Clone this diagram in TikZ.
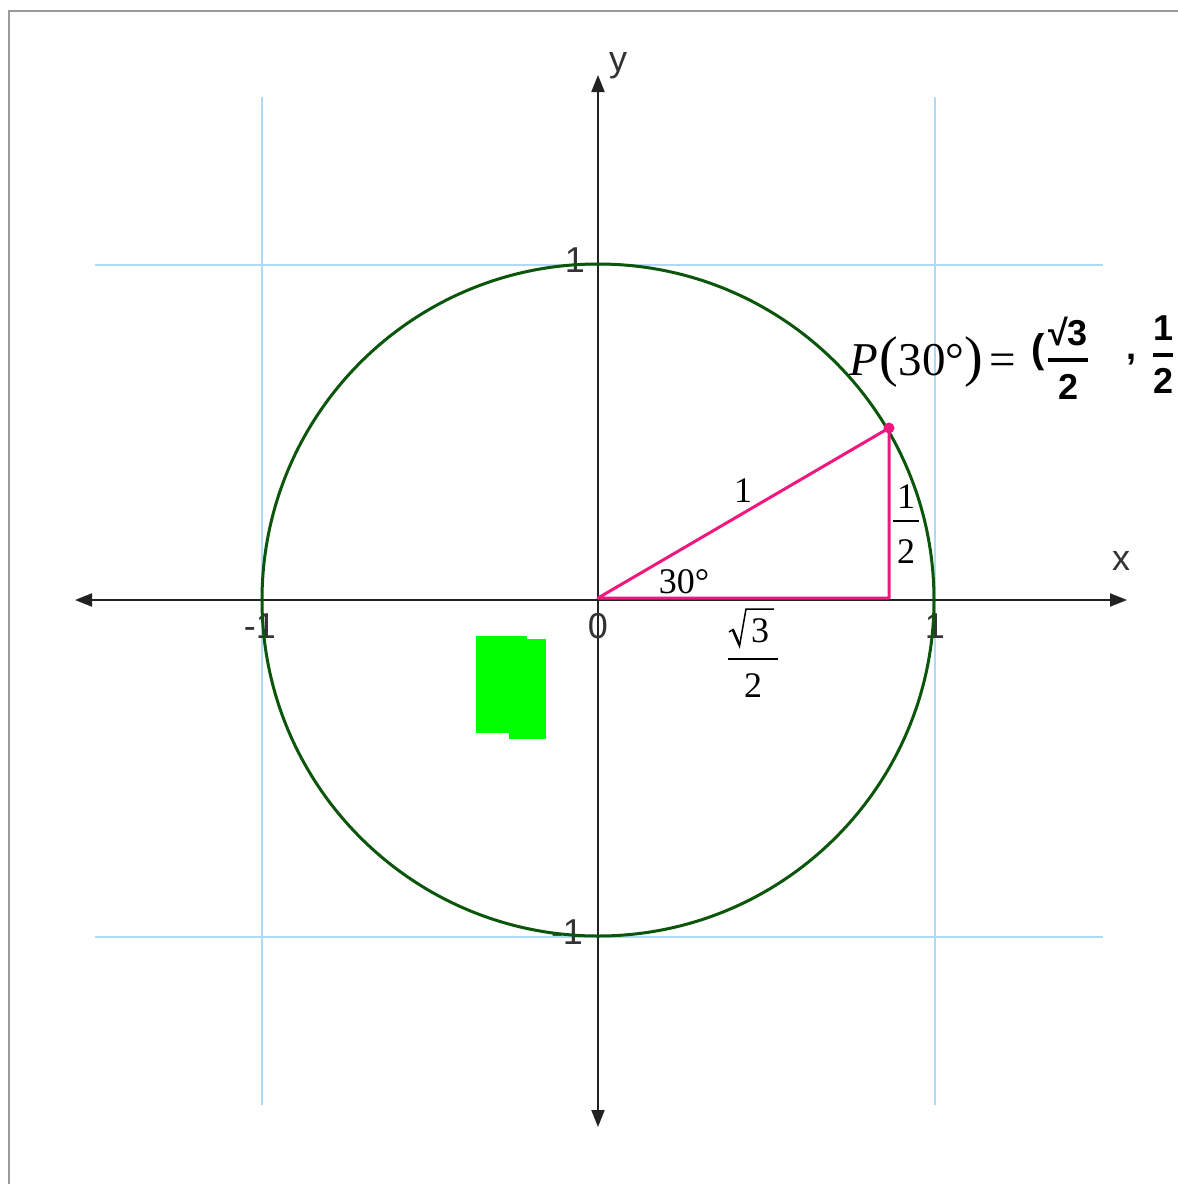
\documentclass[tikz,border=0pt]{standalone}
\usepackage{amsmath}
\usepackage{fontspec}
\setmainfont{Liberation Serif}
\setsansfont{Liberation Sans}
\usetikzlibrary{arrows.meta}
\definecolor{gridblue}{HTML}{B0DAF4}
\definecolor{axisgray}{HTML}{222222}
\definecolor{labelgray}{HTML}{333333}
\definecolor{circgreen}{HTML}{0B560B}
\definecolor{pinkline}{HTML}{F2177F}
\definecolor{bordergray}{HTML}{9A9A9A}
\definecolor{brightgreen}{HTML}{00FF00}
\tikzset{
  gridline/.style={draw=gridblue, line width=1.4pt},
  axisline/.style={draw=axisgray, line width=2pt, {Triangle[length=17pt,width=13pt]}-{Triangle[length=17pt,width=13pt]}},
  axislabel/.style={inner sep=0pt, text=labelgray, font=\sffamily\fontsize{36}{40}\selectfont},
  mathlabel/.style={inner sep=0pt, text=black, font=\rmfamily\fontsize{36}{40}\selectfont},
  fracbar/.style={draw=black, line width=1.6pt},
  radical/.style={draw=black, line width=1.5pt, line join=miter},
  handlabel/.style={inner sep=0pt, text=black, font=\sffamily\bfseries\fontsize{36}{40}\selectfont},
  pinkside/.style={draw=pinkline, line width=3pt, line cap=round, line join=round},
  greenblock/.style={fill=brightgreen, draw=none}
}
\begin{document}
\begin{tikzpicture}[x=1pt,y=-1pt]
\useasboundingbox (0,0) rectangle (1178,1184);
\clip (0,0) rectangle (1178,1184);
\fill[white] (0,0) rectangle (1178,1184);
% frame
\draw[bordergray, line width=2pt] (9,1200) -- (9,11) -- (1200,11);
% grid
\draw[gridline] (262,97) -- (262,1105);
\draw[gridline] (935,97) -- (935,1105);
\draw[gridline] (95,265) -- (1103,265);
\draw[gridline] (95,937) -- (1103,937);
% green blocks
\fill[greenblock] (476,636) rectangle (527,733);
\fill[greenblock] (509,639) rectangle (546,739);
% axes
\coordinate (xl) at (75,600);
\coordinate (xr) at (1127,600);
\coordinate (yt) at (598,75);
\coordinate (yb) at (598,1127);
\draw[axisline] (xl) -- (xr);
\draw[axisline] (yb) -- (yt);
\node[axislabel] (ylab) at (618,66) {y};
\node[axislabel] (xlab) at (1121,561) {x};
\node[axislabel] (t1y) at (575,260) {1};
\node[axislabel] (tm1x) at (260,626) {-1};
\node[axislabel] (t0) at (598,626) {0};
\node[axislabel] (t1x) at (935,626) {1};
\node[axislabel] (tm1y) at (567,932) {-1};
% circle
\coordinate (O) at (598,600);
\draw[circgreen, line width=3pt] (O) circle[radius=336];
% triangle
\coordinate (O2) at (598,598);
\coordinate (P) at (889,428);
\coordinate (F) at (889,598);
\draw[pinkside] (O2) -- (P) -- (F) -- cycle;
\fill[pinkline] (P) circle[radius=5.5];
% labels
\node[mathlabel] (hyp) at (743,491) {1};
\node[mathlabel] (ang) at (684,582) {30°};
% 1/2
\node[mathlabel] (hn) at (906,497) {1};
\node[mathlabel] (hd) at (906,552) {2};
\coordinate (hbl) at (893,521);
\coordinate (hbr) at (919,521);
\draw[fracbar] (hbl) -- (hbr);
% sqrt3/2
\node[mathlabel] (cn) at (760,631) {3};
\coordinate (r1) at (729,632);
\coordinate (r2) at (733,629.5);
\coordinate (r3) at (739.5,646);
\coordinate (r4) at (746,609);
\coordinate (r5) at (774,609);
\draw[radical] (r1) -- (r2) -- (r3) -- (r4) -- (r5);
\draw[black, line width=2.6pt] (733,630) -- (739.5,645);
\node[mathlabel] (cd) at (753,686) {2};
\coordinate (cbl) at (728,659);
\coordinate (cbr) at (778,659);
\draw[fracbar] (cbl) -- (cbr);
% P(30°) =
\node[inner sep=0pt, anchor=base west, font=\rmfamily\fontsize{47}{50}\selectfont] (plab) at (849,375)
  {\textit{P}\kern2pt{\fontsize{56}{56}\selectfont(}30°{\fontsize{56}{56}\selectfont)}\kern6pt=};
% handwritten-like coordinates
\node[handlabel, font=\sffamily\bfseries\fontsize{40}{44}\selectfont] (hp) at (1038,352) {(};
\node[handlabel] (hx) at (1068,358) {$\genfrac{}{}{4pt}{0}{\text{√3}}{\text{2}}$};
\node[handlabel] (hc) at (1131,360) {,};
\node[handlabel] (hy) at (1163,355) {$\genfrac{}{}{4pt}{0}{\text{1}}{\text{2}}$};
\end{tikzpicture}
\end{document}
